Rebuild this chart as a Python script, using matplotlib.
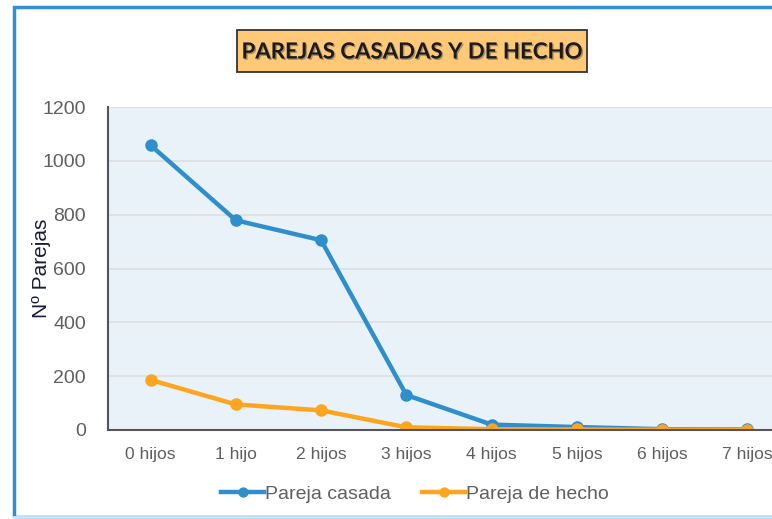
import matplotlib.pyplot as plt
from matplotlib.patches import Rectangle
import matplotlib.patheffects as pe

categorias = ['0 hijos', '1 hijo', '2 hijos', '3 hijos', '4 hijos', '5 hijos', '6 hijos', '7 hijos']
casada = [1058, 779, 705, 130, 20, 11, 3, 2]
hecho = [186, 95, 73, 10, 3, 2, 1, 1]

W, H = 772, 519
fig = plt.figure(figsize=(W / 100, H / 100), dpi=100)

# marco azul del grafico
fig.patches.append(Rectangle((14 / W, 2 / H), 1.2, 1 - 9 / H, transform=fig.transFigure,
                             fill=False, edgecolor='#2f8fd0', linewidth=2.5))
fig.add_artist(plt.Line2D([14 / W, 1], [2 / H, 2 / H], color='#cfe8f7', lw=2))

left, right = 108, 790
top, bottom = 107, 430
ax = fig.add_axes([left / W, 1 - bottom / H, (right - left) / W, (bottom - top) / H])
ax.set_facecolor('#e9f2f9')

x = range(len(categorias))
ax.plot(x, casada, color='#2e8fcc', lw=3.2, marker='o', ms=8, label='Pareja casada')
ax.plot(x, hecho, color='#fea51f', lw=3.2, marker='o', ms=8, label='Pareja de hecho')

ax.set_xlim(-0.5, 7.5)
ax.set_ylim(0, 1200)
ax.set_yticks(range(0, 1201, 200))
ax.set_xticks(list(x))
ax.set_xticklabels(categorias)
ax.grid(axis='y', color='#dcdfe2', lw=1.2)
ax.set_axisbelow(True)
for s in ['top', 'right']:
    ax.spines[s].set_visible(False)
for s in ['left', 'bottom']:
    ax.spines[s].set_color('#555555')
    ax.spines[s].set_linewidth(1.5)
ax.tick_params(length=0, labelcolor='#5f5f5f', labelfontfamily='Liberation Sans', labelsize=14)
ax.tick_params(axis='x', pad=12, labelsize=12.6)
ax.tick_params(axis='y', pad=16)
ax.set_ylabel('Nº Parejas', fontsize=15, family='Liberation Sans', color='#1a1a3a')
ax.yaxis.set_label_coords((51 - left) / (right - left), 0.5)

fig.legend(loc='center', bbox_to_anchor=(415 / W, 1 - 494 / H), ncol=2, frameon=False,
           prop={'family': 'Liberation Sans', 'size': 14}, handlelength=2.2,
           columnspacing=1.6, handletextpad=0.05, labelcolor='#5f5f5f', markerscale=0.8)

# caja del titulo
fig.patches.append(Rectangle((237 / W, 1 - 72 / H), 350 / W, 42 / H, transform=fig.transFigure,
                             facecolor='#ffc978', edgecolor='#333333', lw=1.3))
fig.text(412 / W, 1 - 52 / H, 'PAREJAS CASADAS Y DE HECHO', ha='center', va='center',
         fontsize=16, fontweight='bold', family='Lato', color='#1a1a1a',
         path_effects=[pe.withSimplePatchShadow(offset=(1, -1), shadow_rgbFace='#555555', alpha=0.5)])

fig.savefig('out.png', dpi=100)
